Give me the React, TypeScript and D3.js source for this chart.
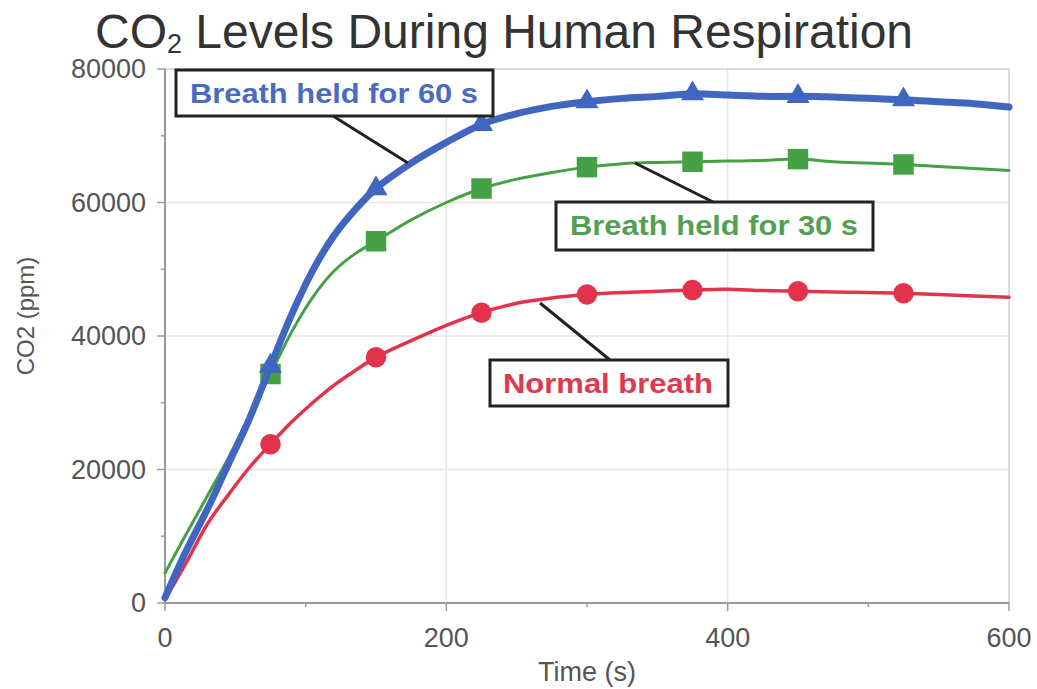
import React from "react";
import * as d3 from "d3";

const times = [0, 15, 30, 45, 60, 75, 90, 105, 120, 135, 150, 175, 200, 225, 250, 275, 300, 325, 350, 375, 400, 425, 450, 475, 500, 525, 550, 575, 600];
const held60 = [800, 7800, 14000, 20800, 27600, 35500, 43200, 49800, 55000, 58900, 62100, 65900, 69000, 71700, 73300, 74400, 75100, 75600, 75900, 76300, 76100, 75900, 75900, 75800, 75600, 75400, 75100, 74800, 74300];
const held30 = [4500, 10300, 16000, 21700, 28000, 34300, 40600, 45800, 49700, 52300, 54200, 57400, 60000, 62100, 63500, 64500, 65300, 65800, 66000, 66100, 66200, 66300, 66500, 66100, 65900, 65700, 65400, 65100, 64800];
const normal = [500, 6000, 11800, 16200, 20300, 23800, 27100, 30000, 32600, 34800, 36800, 39300, 41600, 43500, 44900, 45700, 46200, 46500, 46700, 46900, 47000, 46800, 46700, 46600, 46500, 46400, 46200, 46000, 45800];
const markerTimes = [75, 150, 225, 300, 375, 450, 525];
const xTicks = [0, 200, 400, 600];
const xMinor = [100, 300, 500];
const yTicks = [0, 20000, 40000, 60000, 80000];
const yMinor = [10000, 30000, 50000, 70000];
const seriesNames = ["Breath held for 60 s", "Breath held for 30 s", "Normal breath"];

const W = 1037, H = 689;
const FONT = "'Liberation Sans', Arial, Helvetica, sans-serif";

export default function App() {
  const x = d3.scaleLinear().domain([0, 600]).range([165, 1009]);
  const y = d3.scaleLinear().domain([0, 80000]).range([603, 69]);

  const series = [
    { name: seriesNames[0], values: held60, color: "#4166c0", text: "#4a6cc0", width: 7, shape: "triangle" },
    { name: seriesNames[1], values: held30, color: "#46a046", text: "#52a052", width: 3, shape: "square" },
    { name: seriesNames[2], values: normal, color: "#e2334a", text: "#dc3a4e", width: 3.5, shape: "circle" },
  ];

  const line = d3
    .line<number>()
    .x((_, i) => x(times[i]))
    .y((v) => y(v))
    .curve(d3.curveCatmullRom.alpha(0.5));

  const symbolFor = (shape: string) => {
    if (shape === "triangle") return d3.symbol().type(d3.symbolTriangle).size(230)();
    if (shape === "square") return d3.symbol().type(d3.symbolSquare).size(420)();
    return d3.symbol().type(d3.symbolCircle).size(330)();
  };

  const boxes = [
    { s: 0, x0: 176, y0: 70, x1: 493, y1: 116, tx: 334, ty: 103, tl: 288, lead: [333, 116, 408, 163] },
    { s: 1, x0: 556, y0: 202, x1: 873, y1: 250, tx: 714, ty: 235, tl: 288, lead: [635, 163, 713, 202] },
    { s: 2, x0: 490, y0: 360, x1: 728, y1: 406, tx: 608, ty: 393, tl: 210, lead: [540, 303, 610, 360] },
  ];

  return (
    <svg width={W} height={H} style={{ position: "absolute", left: 0, top: 0, background: "#fff" }} fontFamily={FONT}>
      {/* title */}
      <text x={95} y={48} fontSize={48} fill="#333">
        CO<tspan fontSize={27} dy={5}>2</tspan>
        <tspan dy={-5}> Levels During Human Respiration</tspan>
      </text>

      {/* grid */}
      {yTicks.slice(1, 4).map((t) => (
        <line key={"gy" + t} x1={x(0)} x2={x(600)} y1={y(t)} y2={y(t)} stroke="#e6e6e6" strokeWidth={1.5} />
      ))}
      {xTicks.slice(1, 3).map((t) => (
        <line key={"gx" + t} x1={x(t)} x2={x(t)} y1={y(0)} y2={y(80000)} stroke="#e6e6e6" strokeWidth={1.5} />
      ))}
      {/* frame */}
      <line x1={x(0)} x2={x(600)} y1={y(80000)} y2={y(80000)} stroke="#d0d0d0" strokeWidth={1.5} />
      <line x1={x(600)} x2={x(600)} y1={y(0)} y2={y(80000)} stroke="#d0d0d0" strokeWidth={1.5} />
      <line x1={x(0)} x2={x(0)} y1={y(0)} y2={y(80000)} stroke="#9a9a9a" strokeWidth={2} />
      <line x1={x(0)} x2={x(600)} y1={y(0)} y2={y(0)} stroke="#9a9a9a" strokeWidth={2} />

      {/* y ticks */}
      {yTicks.map((t) => (
        <g key={"yt" + t}>
          <line x1={x(0) - 8} x2={x(0)} y1={y(t)} y2={y(t)} stroke="#9a9a9a" strokeWidth={1.5} />
          <text x={x(0) - 19} y={y(t)} dy="0.35em" textAnchor="end" fontSize={27} fill="#555">
            {t}
          </text>
        </g>
      ))}
      {yMinor.map((t) => (
        <line key={"ym" + t} x1={x(0) - 4} x2={x(0)} y1={y(t)} y2={y(t)} stroke="#9a9a9a" strokeWidth={1.5} />
      ))}
      {/* x ticks */}
      {xTicks.map((t) => (
        <g key={"xt" + t}>
          <line x1={x(t)} x2={x(t)} y1={y(0)} y2={y(0) + 8} stroke="#9a9a9a" strokeWidth={1.5} />
          <text x={x(t)} y={647} textAnchor="middle" fontSize={27} fill="#555">
            {t}
          </text>
        </g>
      ))}
      {xMinor.map((t) => (
        <line key={"xm" + t} x1={x(t)} x2={x(t)} y1={y(0)} y2={y(0) + 4} stroke="#9a9a9a" strokeWidth={1.5} />
      ))}

      {/* axis titles */}
      <text x={587} y={681} textAnchor="middle" fontSize={27} fill="#555">
        Time (s)
      </text>
      <text transform={`translate(34,316) rotate(-90)`} textAnchor="middle" fontSize={24} fill="#555">
        CO2 (ppm)
      </text>

      {/* series lines, drawn bottom to top */}
      {[2, 1, 0].map((si) => {
        const s = series[si];
        return (
          <g key={s.name}>
            <path d={line(s.values) || ""} fill="none" stroke={s.color} strokeWidth={s.width} strokeLinejoin="round" strokeLinecap="round" />
            {times.map((t, i) =>
              markerTimes.includes(t) ? (
                <path key={t} d={symbolFor(s.shape) || ""} transform={`translate(${x(t)},${y(s.values[i])})`} fill={s.color} />
              ) : null
            )}
          </g>
        );
      })}

      {/* annotations */}
      {boxes.map((b) => {
        const s = series[b.s];
        return (
          <g key={s.name}>
            <line x1={b.lead[0]} y1={b.lead[1]} x2={b.lead[2]} y2={b.lead[3]} stroke="#222" strokeWidth={3} />
            <rect x={b.x0} y={b.y0} width={b.x1 - b.x0} height={b.y1 - b.y0} fill="#fff" stroke="#222" strokeWidth={3} />
            <text x={b.tx} y={b.ty} textAnchor="middle" fontSize={28} fontWeight="bold" fill={s.text} textLength={b.tl} lengthAdjust="spacingAndGlyphs">
              {s.name}
            </text>
          </g>
        );
      })}
    </svg>
  );
}
